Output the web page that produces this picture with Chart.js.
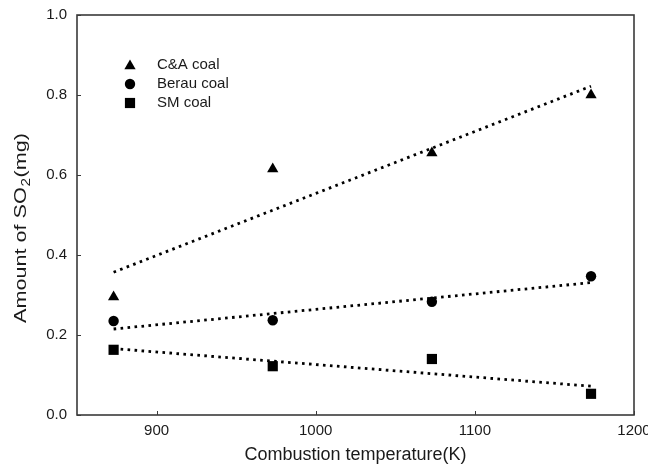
<!DOCTYPE html>
<html>
<head>
<meta charset="utf-8">
<script src="https://cdn.jsdelivr.net/npm/chart.js@4.4.1/dist/chart.umd.min.js"></script>
<style>
  html, body { margin: 0; padding: 0; background: #fff; }
</style>
</head>
<body>
<canvas id="chart" width="648" height="475"></canvas>
<script>
// data
const temps = [873, 973, 1073, 1173]
const caCoal = [0.295, 0.615, 0.655, 0.80]
const berauCoal = [0.235, 0.237, 0.283, 0.347]
const smCoal = [0.163, 0.122, 0.140, 0.053]

// fitted lines (end points)
const fitX = [873, 1173]
const caFit = [0.357, 0.822]
const berauFit = [0.215, 0.331]
const smFit = [0.166, 0.072]

const seriesNames = ['C&A coal', 'Berau coal', 'SM coal']
const seriesMarkers = ['triangle', 'circle', 'rect']

const xTicks = [900, 1000, 1100, 1200]
const yTicks = [0, 0.2, 0.4, 0.6, 0.8, 1.0]
const xTitle = 'Combustion temperature(K)'
const yTitle = ['Amount of SO', '2', '(mg)']

const FONT = "'Liberation Sans', Arial, sans-serif"
const INK = '#1a1a1a'
const AXIS = '#3a3a3a'

const toPts = (xs, ys) => xs.map((x, i) => ({ x: x, y: ys[i] }))

function marker(name, data, style, r) {
  return {
    type: 'scatter',
    label: name,
    data: data,
    pointStyle: style,
    pointRadius: r,
    pointHoverRadius: r,
    backgroundColor: '#000',
    borderColor: '#000',
    borderWidth: 0,
    order: 1,
  }
}

function fit(name, data) {
  return {
    type: 'line',
    label: name,
    data: data,
    borderColor: '#000',
    borderWidth: 2.8,
    borderDash: [2.6, 4.4],
    pointRadius: 0,
    fill: false,
    tension: 0,
    order: 2,
  }
}

function drawMarker(ctx, style, x, y, r) {
  ctx.beginPath()
  if (style === 'triangle') {
    ctx.moveTo(x, y - r)
    ctx.lineTo(x + r * 0.866, y + r * 0.5)
    ctx.lineTo(x - r * 0.866, y + r * 0.5)
    ctx.closePath()
  }
  else if (style === 'circle') {
    ctx.arc(x, y, r, 0, Math.PI * 2)
  }
  else {
    const s = r * Math.SQRT1_2
    ctx.rect(x - s, y - s, s * 2, s * 2)
  }
  ctx.fill()
}

// frame, inward ticks, legend and y title
const decor = {
  id: 'decor',
  afterDraw(chart) {
    const { ctx, chartArea: a, scales } = chart
    ctx.save()

    ctx.strokeStyle = AXIS
    ctx.lineWidth = 1.6
    ctx.strokeRect(a.left, a.top, a.right - a.left, a.bottom - a.top)

    ctx.lineWidth = 1
    ctx.beginPath()
    xTicks.forEach(v => {
      const px = Math.round(scales.x.getPixelForValue(v)) + 0.5
      ctx.moveTo(px, a.bottom)
      ctx.lineTo(px, a.bottom - 4)
    })
    yTicks.forEach(v => {
      const py = Math.round(scales.y.getPixelForValue(v)) + 0.5
      ctx.moveTo(a.left, py)
      ctx.lineTo(a.left + 4, py)
    })
    ctx.stroke()

    // legend
    const radii = [6.5, 5.2, 7.2]
    ctx.font = '15px ' + FONT
    ctx.textBaseline = 'middle'
    seriesNames.forEach((n, i) => {
      const y = 65 + i * 19
      ctx.fillStyle = '#000'
      drawMarker(ctx, seriesMarkers[i], 130, y + (i === 0 ? 1 : 0), radii[i])
      ctx.fillStyle = INK
      ctx.fillText(n, 157, y)
    })

    // y title with subscript, stretched to the span seen in the figure
    const big = '17px ' + FONT, small = '12px ' + FONT
    ctx.font = big
    const w0 = ctx.measureText(yTitle[0]).width
    const w2 = ctx.measureText(yTitle[2]).width
    ctx.font = small
    const w1 = ctx.measureText(yTitle[1]).width + 1
    const total = w0 + w1 + w2
    const sx = 190 / total
    ctx.translate(26, 228)
    ctx.rotate(-Math.PI / 2)
    ctx.scale(sx, 1)
    ctx.fillStyle = INK
    ctx.textBaseline = 'alphabetic'
    ctx.textAlign = 'left'
    let cx = -total / 2
    ctx.font = big
    ctx.fillText(yTitle[0], cx, 0)
    cx += w0
    ctx.font = small
    ctx.fillText(yTitle[1], cx + 0.5, 4)
    cx += w1
    ctx.font = big
    ctx.fillText(yTitle[2], cx, 0)

    ctx.restore()
  }
}

const chart = new Chart(document.getElementById('chart'), {
  data: {
    datasets: [
      marker(seriesNames[0], toPts(temps, caCoal), 'triangle', 6.5),
      marker(seriesNames[1], toPts(temps, berauCoal), 'circle', 5.2),
      marker(seriesNames[2], toPts(temps, smCoal), 'rect', 7.2),
      fit(seriesNames[0] + ' fit', toPts(fitX, caFit)),
      fit(seriesNames[1] + ' fit', toPts(fitX, berauFit)),
      fit(seriesNames[2] + ' fit', toPts(fitX, smFit)),
    ]
  },
  options: {
    responsive: false,
    animation: false,
    layout: { padding: { left: 0, top: 15, right: 14, bottom: 0 } },
    plugins: {
      legend: { display: false },
      tooltip: { enabled: false },
    },
    scales: {
      x: {
        type: 'linear',
        position: 'bottom',
        min: 850,
        max: 1200,
        afterBuildTicks: (s) => { s.ticks = xTicks.map(v => ({ value: v })) },
        afterFit: (s) => { s.height = 60; s.paddingLeft = 0; s.paddingRight = 0 },
        grid: { display: false, drawTicks: false },
        border: { display: false },
        ticks: {
          padding: 7,
          color: INK,
          font: { family: FONT, size: 15 },
          maxRotation: 0,
          callback: (v) => String(v),
        },
        title: {
          display: true,
          text: xTitle,
          color: INK,
          font: { family: FONT, size: 18 },
          padding: { top: 0, bottom: 9 },
        },
      },
      y: {
        type: 'linear',
        position: 'left',
        min: 0,
        max: 1,
        afterBuildTicks: (s) => { s.ticks = yTicks.map(v => ({ value: v })) },
        afterFit: (s) => { s.width = 77; s.paddingTop = 0; s.paddingBottom = 0 },
        grid: { display: false, drawTicks: false },
        border: { display: false },
        ticks: {
          padding: 10,
          color: INK,
          font: { family: FONT, size: 15 },
          callback: (v) => Number(v).toFixed(1),
        },
      },
    },
  },
  plugins: [decor],
})
</script>
</body>
</html>
